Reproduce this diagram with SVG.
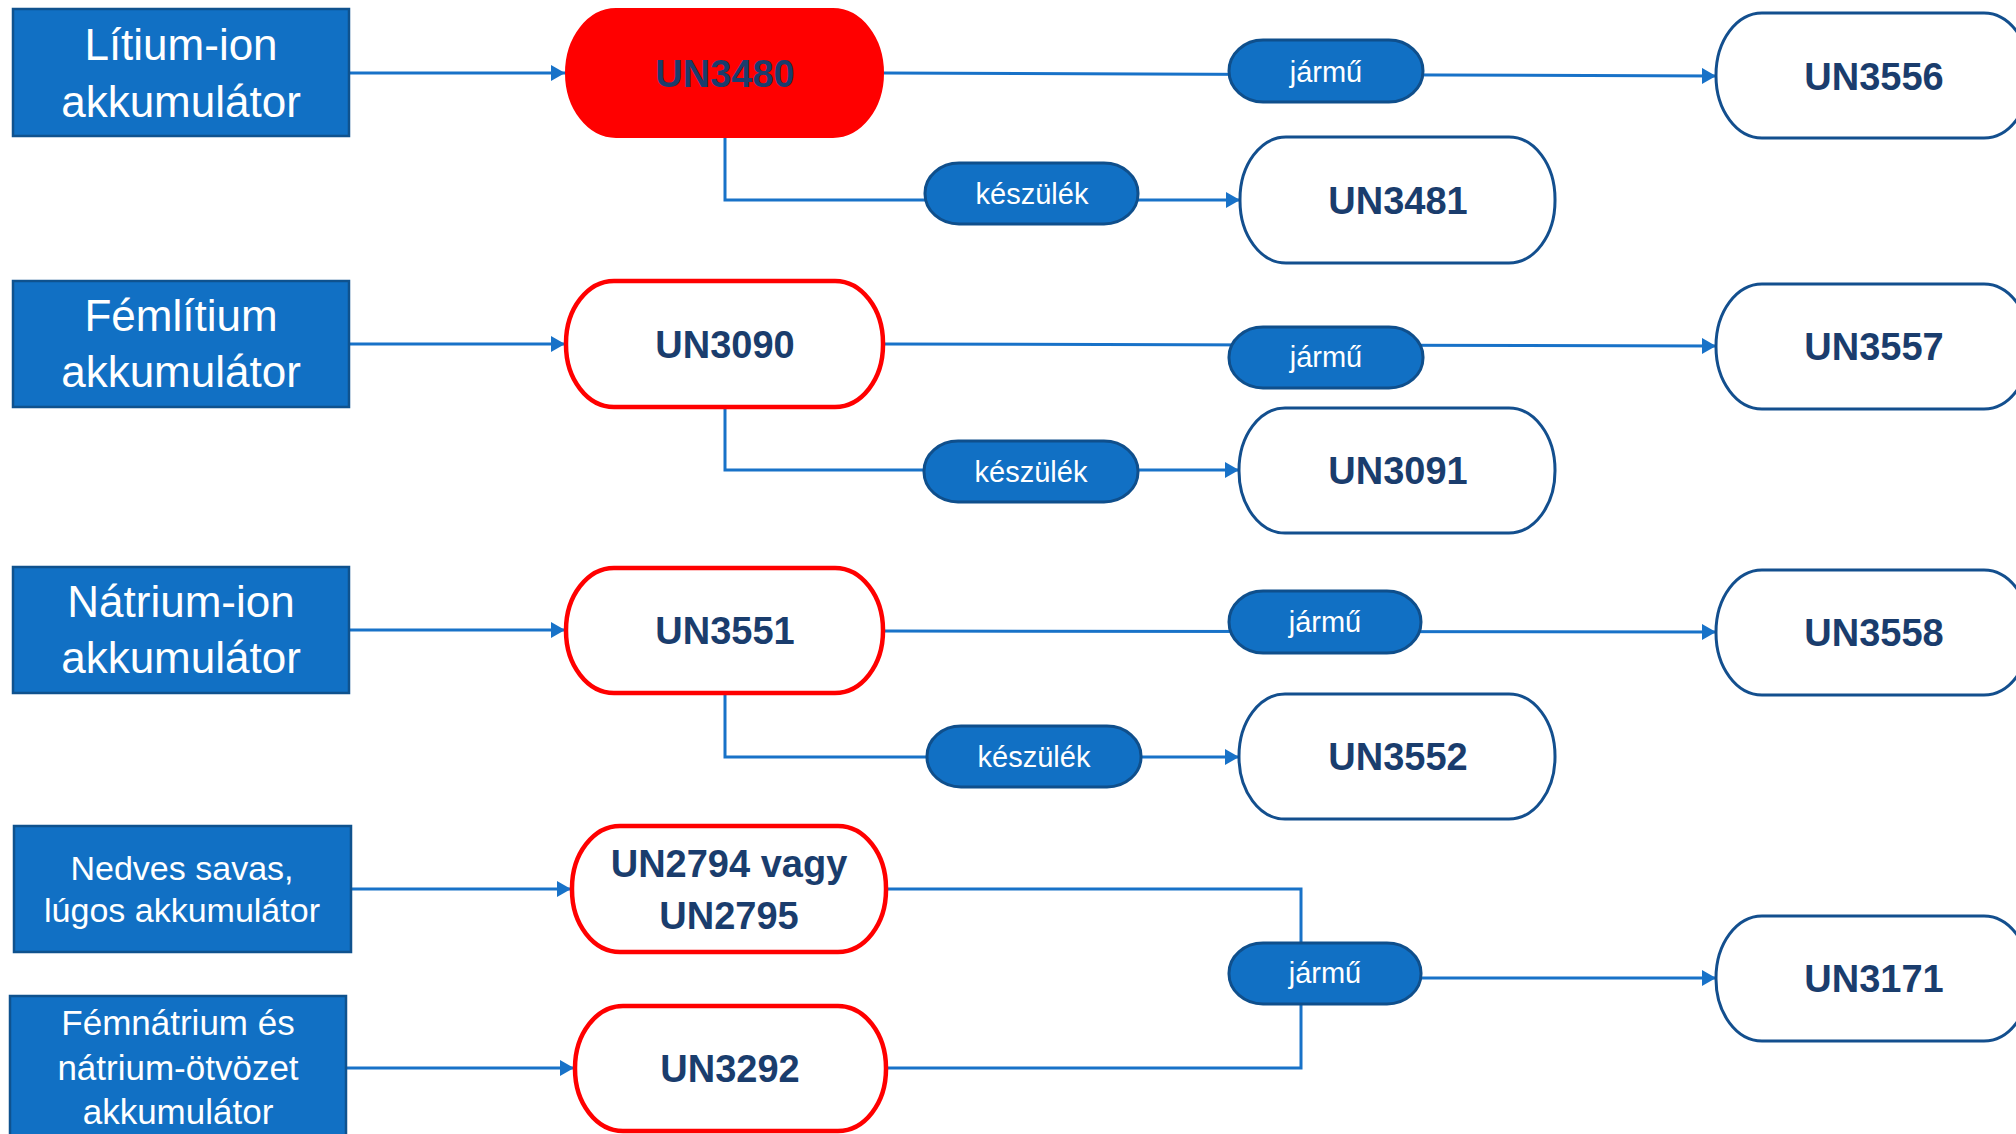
<svg xmlns="http://www.w3.org/2000/svg" width="2016" height="1134" viewBox="0 0 2016 1134">
<defs>
<marker id="arr" markerUnits="userSpaceOnUse" markerWidth="15" markerHeight="16" refX="14" refY="8" orient="auto">
<path d="M0,0 L14,8 L0,16 z" fill="#1872C8"/>
</marker>
<style>
.box{fill:#1170C4;stroke:#0F528E;stroke-width:2.5}
.btxt{fill:#fff;font-family:"Liberation Sans",Arial,sans-serif;text-anchor:middle}
.redp{fill:#fff;stroke:#FF0000;stroke-width:4.5}
.redf{fill:#FF0000;stroke:#FF0000;stroke-width:2}
.outp{fill:#fff;stroke:#134F8E;stroke-width:3}
.un{fill:#1A3D6D;font-family:"Liberation Sans",Arial,sans-serif;font-weight:bold;font-size:38px;text-anchor:middle}
.lab{fill:#1170C4;stroke:#0F4F8C;stroke-width:3}
.ltxt{fill:#fff;font-family:"Liberation Sans",Arial,sans-serif;font-size:29px;text-anchor:middle}
.con{fill:none;stroke:#1872C8;stroke-width:3}
</style>
</defs>
<rect width="2016" height="1134" fill="#fff"/>

<g id="connectors">
<path class="con" d="M349,73 H565" marker-end="url(#arr)"/>
<path class="con" d="M884,73 L1716,76" marker-end="url(#arr)"/>
<path class="con" d="M725,138 V200 H1240" marker-end="url(#arr)"/>
<path class="con" d="M349,344 H565" marker-end="url(#arr)"/>
<path class="con" d="M884,344 L1716,346" marker-end="url(#arr)"/>
<path class="con" d="M725,408 V470 H1239" marker-end="url(#arr)"/>
<path class="con" d="M349,630 H565" marker-end="url(#arr)"/>
<path class="con" d="M884,631 L1716,632" marker-end="url(#arr)"/>
<path class="con" d="M725,694 V757 H1239" marker-end="url(#arr)"/>
<path class="con" d="M351,889 H571" marker-end="url(#arr)"/>
<path class="con" d="M346,1068 H574" marker-end="url(#arr)"/>
<path class="con" d="M887,889 H1301 V943"/>
<path class="con" d="M887,1068 H1301 V1004"/>
<path class="con" d="M1421,978 H1716" marker-end="url(#arr)"/>
</g>

<g id="n-litium"><rect class="box" x="13" y="9" width="336" height="127"/>
<text class="btxt" font-size="44" x="181" y="60">Lítium-ion</text>
<text class="btxt" font-size="44" x="181" y="117">akkumulátor</text></g>

<g id="n-femlitium"><rect class="box" x="13" y="281" width="336" height="126"/>
<text class="btxt" font-size="44" x="181" y="331">Fémlítium</text>
<text class="btxt" font-size="44" x="181" y="387">akkumulátor</text></g>

<g id="n-natrium"><rect class="box" x="13" y="567" width="336" height="126"/>
<text class="btxt" font-size="44" x="181" y="617">Nátrium-ion</text>
<text class="btxt" font-size="44" x="181" y="673">akkumulátor</text></g>

<g id="n-nedves"><rect class="box" x="14" y="826" width="337" height="126"/>
<text class="btxt" font-size="34" x="182" y="880">Nedves savas,</text>
<text class="btxt" font-size="34" x="182" y="922">lúgos akkumulátor</text></g>

<g id="n-femnatrium"><rect class="box" x="10" y="996" width="336" height="150"/>
<text class="btxt" font-size="35" x="178" y="1035">Fémnátrium és</text>
<text class="btxt" font-size="35" x="178" y="1080">nátrium-ötvözet</text>
<text class="btxt" font-size="35" x="178" y="1124">akkumulátor</text></g>

<g id="n-un3480"><rect class="redf" x="566" y="9" width="317" height="128" rx="50" ry="64"/>
<text class="un" x="725" y="87">UN3480</text></g>
<g id="n-un3090"><rect class="redp" x="566" y="281" width="317" height="126" rx="48" ry="62"/>
<text class="un" x="725" y="358">UN3090</text></g>
<g id="n-un3551"><rect class="redp" x="566" y="568" width="317" height="125" rx="48" ry="62"/>
<text class="un" x="725" y="644">UN3551</text></g>
<g id="n-un2794"><rect class="redp" x="572" y="826" width="314" height="126" rx="48" ry="62"/>
<text class="un" x="729" y="877">UN2794 vagy</text>
<text class="un" x="729" y="929">UN2795</text></g>
<g id="n-un3292"><rect class="redp" x="575" y="1006" width="311" height="125" rx="48" ry="62"/>
<text class="un" x="730" y="1082">UN3292</text></g>

<g id="l-jarmu1"><rect class="lab" x="1229" y="40" width="194" height="62" rx="34" ry="31"/>
<text class="ltxt" x="1326" y="82">jármű</text></g>
<g id="l-keszulek1"><rect class="lab" x="925" y="163" width="213" height="61" rx="34" ry="30"/>
<text class="ltxt" x="1032" y="204">készülék</text></g>
<g id="l-jarmu2"><rect class="lab" x="1229" y="327" width="194" height="61" rx="34" ry="30"/>
<text class="ltxt" x="1326" y="367">jármű</text></g>
<g id="l-keszulek2"><rect class="lab" x="924" y="441" width="214" height="61" rx="34" ry="30"/>
<text class="ltxt" x="1031" y="482">készülék</text></g>
<g id="l-jarmu3"><rect class="lab" x="1229" y="591" width="192" height="62" rx="34" ry="31"/>
<text class="ltxt" x="1325" y="632">jármű</text></g>
<g id="l-keszulek3"><rect class="lab" x="927" y="726" width="214" height="61" rx="34" ry="30"/>
<text class="ltxt" x="1034" y="767">készülék</text></g>
<g id="l-jarmu4"><rect class="lab" x="1229" y="943" width="192" height="61" rx="34" ry="30"/>
<text class="ltxt" x="1325" y="983">jármű</text></g>

<g id="n-un3556"><rect class="outp" x="1716" y="13" width="314" height="125" rx="46" ry="62"/>
<text class="un" x="1874" y="90">UN3556</text></g>
<g id="n-un3481"><rect class="outp" x="1240" y="137" width="315" height="126" rx="46" ry="62"/>
<text class="un" x="1398" y="214">UN3481</text></g>
<g id="n-un3557"><rect class="outp" x="1716" y="284" width="314" height="125" rx="46" ry="62"/>
<text class="un" x="1874" y="360">UN3557</text></g>
<g id="n-un3091"><rect class="outp" x="1239" y="408" width="316" height="125" rx="46" ry="62"/>
<text class="un" x="1398" y="484">UN3091</text></g>
<g id="n-un3558"><rect class="outp" x="1716" y="570" width="314" height="125" rx="46" ry="62"/>
<text class="un" x="1874" y="646">UN3558</text></g>
<g id="n-un3552"><rect class="outp" x="1239" y="694" width="316" height="125" rx="46" ry="62"/>
<text class="un" x="1398" y="770">UN3552</text></g>
<g id="n-un3171"><rect class="outp" x="1716" y="916" width="314" height="125" rx="46" ry="62"/>
<text class="un" x="1874" y="992">UN3171</text></g>
</svg>
